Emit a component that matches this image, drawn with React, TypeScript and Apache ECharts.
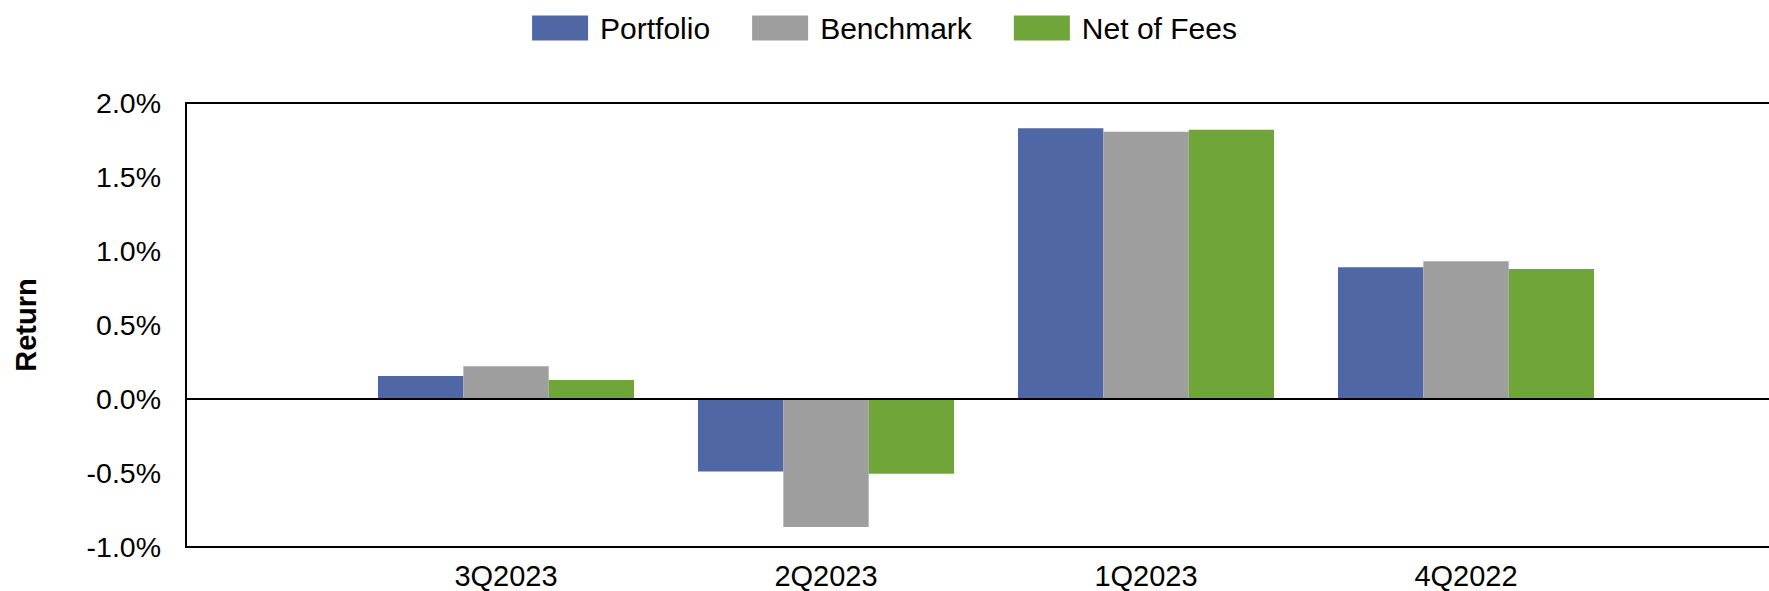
import React, { useEffect, useRef } from "react";
import * as echarts from "echarts";

const categories = ["3Q2023", "2Q2023", "1Q2023", "4Q2022"];
const portfolio = [0.155, -0.49, 1.83, 0.89];
const benchmark = [0.222, -0.865, 1.805, 0.93];
const netOfFees = [0.128, -0.505, 1.82, 0.878];
const seriesNames = ["Portfolio", "Benchmark", "Net of Fees"];
const seriesColors = ["#4F68A5", "#9E9E9E", "#70A53A"];
const yTicks = { min: -1, max: 2, interval: 0.5 };

const FONT = "'Liberation Sans', Arial, sans-serif";

export default function App() {
  const ref = useRef<HTMLDivElement>(null);
  useEffect(() => {
    document.body.style.margin = "0";
    const chart = echarts.init(ref.current!, null, { renderer: "svg" });
    const axisCats = ["", ...categories, ""];
    const pad = (a: number[]) => [null, ...a, null];
    const data = [portfolio, benchmark, netOfFees];
    chart.setOption({
      animation: false,
      textStyle: { fontFamily: FONT },
      legend: {
        top: 8,
        left: "center",
        icon: "rect",
        itemWidth: 56,
        itemHeight: 25,
        itemGap: 42,
        textStyle: { fontSize: 30, color: "#000", fontFamily: FONT, padding: [0, 0, 0, 7] },
        data: seriesNames,
      },
      grid: {
        left: 186,
        top: 103,
        height: 444,
        width: 1600,
        show: true,
        borderColor: "#000",
        borderWidth: 2,
        containLabel: false,
        outerBoundsMode: "none",
      },
      xAxis: {
        type: "category",
        data: axisCats,
        boundaryGap: false,
        axisLine: { show: true, onZero: false, lineStyle: { color: "#000", width: 2 } },
        axisTick: { show: false },
        splitLine: { show: false },
        axisLabel: {
          interval: 0,
          fontSize: 29,
          lineHeight: 29,
          color: "#000",
          margin: 14,
          fontFamily: FONT,
        },
      },
      yAxis: {
        type: "value",
        min: yTicks.min,
        max: yTicks.max,
        interval: yTicks.interval,
        name: "Return",
        nameLocation: "middle",
        nameRotate: 90,
        nameGap: 146,
        nameTextStyle: { fontSize: 29, fontWeight: "bold", color: "#000", fontFamily: FONT },
        axisLine: { show: true, lineStyle: { color: "#000", width: 2 } },
        axisTick: { show: false },
        splitLine: { show: false },
        axisLabel: {
          fontSize: 28.5,
          color: "#000",
          margin: 25,
          fontFamily: FONT,
          formatter: (v: number) => v.toFixed(1) + "%",
        },
      },
      series: seriesNames.map((name, i) => ({
        name,
        type: "bar",
        data: pad(data[i]),
        barGap: "0%",
        barCategoryGap: "20%",
        itemStyle: { color: seriesColors[i] },
        ...(i === 0
          ? {
              markLine: {
                silent: true,
                symbol: "none",
                label: { show: false },
                lineStyle: { color: "#000", width: 2, type: "solid" },
                data: [{ yAxis: 0 }],
                z: 10,
              },
            }
          : {}),
      })),
    });
    return () => chart.dispose();
  }, []);
  return <div ref={ref} style={{ width: 1769, height: 591, position: "absolute", left: 0, top: 0 }} />;
}
